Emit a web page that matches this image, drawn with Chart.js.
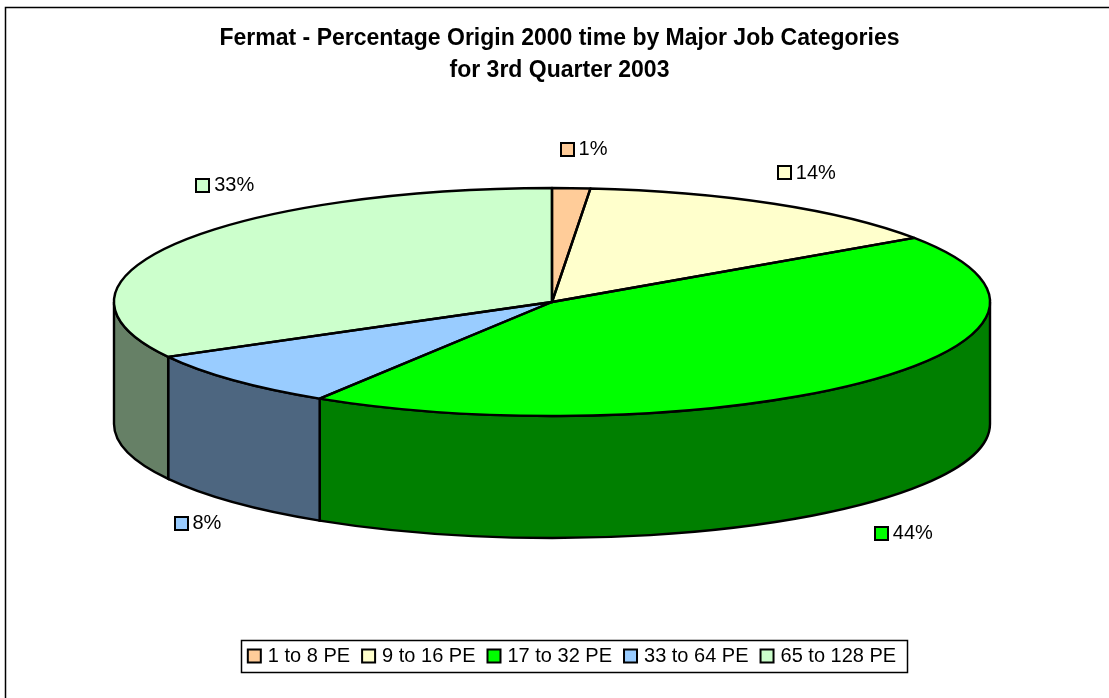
<!DOCTYPE html>
<html>
<head>
<meta charset="utf-8">
<title>Fermat pie</title>
<script src="https://cdn.jsdelivr.net/npm/chart.js@4"></script>
<style>
  html, body { margin: 0; padding: 0; background: #fff; overflow: hidden; }
  #wrap { width: 1109px; height: 698px; }
</style>
</head>
<body>
<div id="wrap"><canvas id="fermatChart"></canvas></div>
<script>
const titleLines = ['Fermat - Percentage Origin 2000 time by Major Job Categories', 'for 3rd Quarter 2003'];
const categories = ['1 to 8 PE', '9 to 16 PE', '17 to 32 PE', '33 to 64 PE', '65 to 128 PE'];
const sliceValues = [1.4, 14.1, 43.4, 8.1, 33.0];
const percentLabels = ['1%', '14%', '44%', '8%', '33%'];
const topColors = ['#FFCC99', '#FFFFCC', '#00FF00', '#99CCFF', '#CCFFCC'];
const wallColors = ['#806650', '#808066', '#007F00', '#4D6680', '#668066'];

// the tilted disc: centre, radii and wall height
const cx = 552, cy = 302, rx = 438, ry = 114, depth = 122;
const labelNudge = [[10, -5], [6, -2], [-2, 6], [2, -3], [95, -42]];
const fontName = '"Liberation Sans", Arial, sans-serif';

const tiltedPie = {
  id: 'tiltedPie',
  afterLayout(chart) {
    // legend sits a bit right of the title
    chart.legend.left += 14;
    chart.legend.right += 14;
  },
  beforeDatasetsDraw(chart) {
    const ctx = chart.ctx;
    const arcs = chart.getDatasetMeta(0).data;
    ctx.save();
    ctx.lineWidth = 2.4;
    ctx.strokeStyle = '#000';
    arcs.forEach(function (arc, i) {
      const s = Math.max(arc.startAngle, 0);
      const e = Math.min(arc.endAngle, Math.PI);
      if (e <= s) return;
      ctx.beginPath();
      ctx.ellipse(cx, cy, rx, ry, 0, s, e);
      ctx.ellipse(cx, cy + depth, rx, ry, 0, e, s, true);
      ctx.closePath();
      ctx.fillStyle = wallColors[i];
      ctx.fill();
      ctx.stroke();
    });
    ctx.restore();
  },
  beforeDatasetDraw(chart) {
    // squash the library's round arcs into the ellipse
    const ctx = chart.ctx;
    const arc = chart.getDatasetMeta(0).data[0];
    ctx.save();
    ctx.translate(cx, cy);
    ctx.scale(rx / arc.outerRadius, ry / arc.outerRadius);
    ctx.translate(-arc.x, -arc.y);
  },
  afterDatasetDraw(chart) {
    const ctx = chart.ctx;
    ctx.restore();
    const arcs = chart.getDatasetMeta(0).data;
    ctx.save();
    ctx.lineWidth = 2.4;
    ctx.strokeStyle = '#000';
    ctx.lineJoin = 'round';
    arcs.forEach(function (arc) {
      ctx.beginPath();
      ctx.moveTo(cx, cy);
      ctx.ellipse(cx, cy, rx, ry, 0, arc.startAngle, arc.endAngle);
      ctx.closePath();
      ctx.stroke();
    });
    ctx.restore();
  },
  afterDraw(chart) {
    const ctx = chart.ctx;
    const arcs = chart.getDatasetMeta(0).data;
    const legend = chart.legend;
    ctx.save();

    // outer frame, only left and top fall inside the picture
    ctx.strokeStyle = '#000';
    ctx.lineWidth = 1.5;
    ctx.beginPath();
    ctx.moveTo(5.5, 698);
    ctx.lineTo(5.5, 7.5);
    ctx.lineTo(1109, 7.5);
    ctx.stroke();

    // legend frame
    const mid = (legend.left + legend.right) / 2;
    const half = legend.lineWidths[0] / 2;
    ctx.lineWidth = 1.5;
    ctx.strokeRect(Math.round(mid - half - 2) + 0.5, 640.5, Math.round(half * 2 + 6), 32);

    // percent labels with their little colour keys
    ctx.font = '20px ' + fontName;
    ctx.textBaseline = 'middle';
    ctx.textAlign = 'left';
    arcs.forEach(function (arc, i) {
      const a = (arc.startAngle + arc.endAngle) / 2;
      const below = Math.sin(a) > 0 ? depth : 0;
      const tw = ctx.measureText(percentLabels[i]).width;
      const lx = cx + rx * 1.12 * Math.cos(a) + labelNudge[i][0] - (tw + 17) / 2;
      const ly = cy + below + ry * 1.3 * Math.sin(a) + labelNudge[i][1];
      ctx.fillStyle = topColors[i];
      ctx.lineWidth = 2;
      ctx.fillRect(Math.round(lx), Math.round(ly - 6), 13, 13);
      ctx.strokeRect(Math.round(lx), Math.round(ly - 6), 13, 13);
      ctx.fillStyle = '#000';
      ctx.fillText(percentLabels[i], lx + 18, ly + 1);
    });
    ctx.restore();
  }
};

new Chart(document.getElementById('fermatChart'), {
  type: 'pie',
  data: {
    labels: categories,
    datasets: [{
      data: sliceValues,
      backgroundColor: topColors,
      borderWidth: 0,
      clip: false
    }]
  },
  plugins: [tiltedPie],
  options: {
    responsive: true,
    maintainAspectRatio: false,
    animation: false,
    events: [],
    layout: { padding: { left: 10, bottom: 22 } },
    plugins: {
      tooltip: { enabled: false },
      title: {
        display: true,
        text: titleLines,
        color: '#000',
        font: { family: fontName, size: 23, weight: 'bold', lineHeight: 1.391 },
        padding: { top: 23, bottom: 20 }
      },
      legend: {
        position: 'bottom',
        labels: {
          color: '#000',
          font: { family: fontName, size: 20 },
          usePointStyle: true,
          pointStyle: 'rect',
          boxWidth: 7,
          boxHeight: 13,
          padding: 15,
          generateLabels() {
            return categories.map(function (name, i) {
              return { text: name, fillStyle: topColors[i], strokeStyle: '#000', lineWidth: 2, pointStyle: 'rect', index: i };
            });
          }
        }
      }
    }
  }
});
</script>
</body>
</html>
